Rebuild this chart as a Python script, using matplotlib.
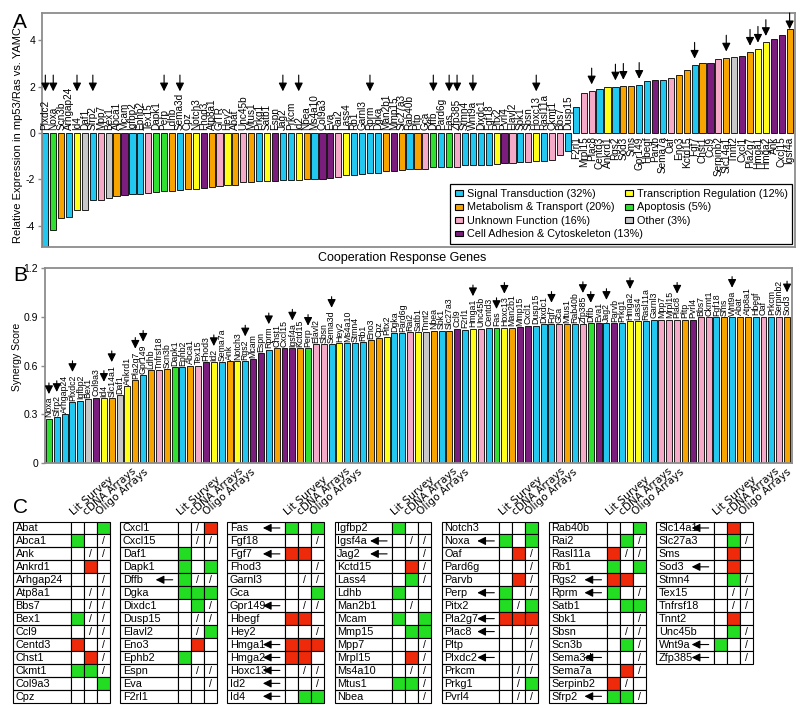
import matplotlib.pyplot as plt
from matplotlib.patches import Rectangle

plt.rcParams['font.family'] = ['Liberation Sans', 'DejaVu Sans']
plt.rcParams['axes.unicode_minus'] = False

# category colours
colors = {'S': '#22c8f0', 'M': '#f7a300', 'U': '#f5aac8', 'C': '#7a1d7c',
          'T': '#ffff1a', 'A': '#30e030', 'O': '#c8c8c8'}
legend_codes = ['S', 'M', 'U', 'C', 'T', 'A', 'O']
legend_labels = ['Signal Transduction (32%)', 'Metabolism & Transport (20%)',
                 'Unknown Function (16%)', 'Cell Adhesion & Cytoskeleton (13%)',
                 'Transcription Regulation (12%)', 'Apoptosis (5%)', 'Other (3%)']

# panel A
genes_a = ['Plxdc2', 'Noxa', 'Scn3b', 'Arhgap24', 'Id4', 'Daf1', 'Sfrp2', 'Mpp7', 'Bex1', 'Abca1',
           'Mcam', 'Igfbp2', 'Ephb2', 'Tex15', 'Dapk1', 'Perp', 'Ldhb', 'Sema3d', 'Cpz', 'Notch3',
           'Fhod3', 'Atp8a1', 'GITR', 'Hey2', 'Abat', 'Unc45b', 'Mtus1', 'Prkg1', 'Satb1', 'Espn',
           'Jag2', 'Prkcm', 'Id2', 'Nbea', 'Ms4a10', 'Col9a3', 'Eva', 'Rai2', 'Lass4', 'Rb1',
           'Garnl3', 'Rprm', 'Dgka', 'Man2b1', 'Mmp15', 'Slc27a3', 'Rab40b', 'Pltp', 'Gca', 'Dffb',
           'Pard6g', 'Fas', 'Zfp385', 'Stmn4', 'Wnt9a', 'Dixdc1', 'Fgf18', 'Pitx2', 'Pvrl4', 'Elavl2',
           'Sbk1', 'Sbsn', 'Hoxc13', 'Rasl11a', 'Ckmt1', 'Bbs7', 'Dusp15', 'F2rl1', 'Mrpl15', 'Plac8',
           'Centd3', 'Ankrd1', 'Rgs2', 'Sod3', 'Sms', 'Gpr149', 'Hbegf', 'Parvb', 'Sema7a', 'Oaf',
           'Eno3', 'Kctd15', 'Fgf7', 'Chst1', 'Ccl9', 'Serpinb2', 'Slc14a1', 'Tnnt2', 'Cxcl1', 'Pla2g7',
           'Hmga1', 'Hmga2', 'Ank', 'Cxcl15', 'Igsf4a']
expr_a = [-4.95, -4.20, -3.67, -3.63, -3.34, -3.34, -2.91, -2.91, -2.81, -2.73,
          -2.69, -2.63, -2.63, -2.60, -2.53, -2.52, -2.52, -2.47, -2.42, -2.40,
          -2.37, -2.32, -2.29, -2.23, -2.23, -2.12, -2.12, -2.09, -2.09, -2.06,
          -2.03, -2.03, -2.03, -2.00, -2.00, -1.97, -1.94, -1.91, -1.83, -1.83,
          -1.77, -1.74, -1.71, -1.65, -1.63, -1.60, -1.57, -1.57, -1.54, -1.48,
          -1.48, -1.45, -1.45, -1.40, -1.40, -1.37, -1.37, -1.34, -1.31, -1.31,
          -1.27, -1.25, -1.22, -1.22, -1.17, -0.95, -0.76, 1.12, 1.73, 1.83,
          1.90, 1.97, 2.00, 2.03, 2.03, 2.07, 2.23, 2.30, 2.30, 2.39,
          2.49, 2.72, 2.94, 3.04, 3.04, 3.21, 3.25, 3.28, 3.32, 3.50,
          3.63, 3.92, 4.06, 4.24, 4.49]
cat_a = list('SAMSTOSUOM' 'CSSUAAMSMT' 'CMUTMUMSTC' 'SSTMSCCUTS' 'SSSMCMSMUA'
             'SAUSSSSTCU' 'SUTSUUSSUU' 'STSMMSSCSU' 'MMSMCUMOCM' 'TTCCM')

# panel B
genes_b = ['Noxa', 'Sfrp2', 'Arhgap24', 'Plxdc2', 'Igfbp2', 'Bex1', 'Col9a3', 'Id4', 'Slc14a1', 'Daf1',
           'Ankrd1', 'Pla2g7', 'Gpr149', 'Ldhb', 'Tnfrsf18', 'Scn3b', 'Dapk1', 'Ephb2', 'Abca1', 'Tex15',
           'Fhod3', 'Id2', 'Sema7a', 'Ank', 'Notch3', 'Rgs2', 'Mcam', 'Espn', 'Rprm', 'Chst1',
           'Cxcl15', 'Igsf4a', 'Kctd15', 'Perp', 'Elavl2', 'Sbsn', 'Sema3d', 'Hey2', 'Ms4a10', 'Stmn4',
           'Rb1', 'Eno3', 'Cpz', 'Pitx2', 'Dgka', 'Pard6g', 'Rai2', 'Satb1', 'Tnnt2', 'Nbea',
           'Sbk1', 'Slc27a3', 'Ccl9', 'F2rl1', 'Hmga1', 'Unc45b', 'Centd3', 'Fas', 'Hoxc13', 'Man2b1',
           'Mmp15', 'Cxcl1', 'Dusp15', 'Dixdc1', 'Fgf7', 'Gca', 'Mtus1', 'Rab40b', 'Zfp385', 'Dffb',
           'Eva1', 'Jag2', 'Parvb', 'Prkg1', 'Hmga2', 'Lass4', 'Rasl11a', 'Garnl3', 'Mpp7', 'Mrpl15',
           'Plac8', 'Pltp', 'Pvrl4', 'Bbs7', 'Ckmt1', 'Fgf18', 'Sms', 'Wnt9a', 'Abat', 'Atp8a1',
           'Hbegf', 'Oaf', 'Prkcm', 'Serpinb2', 'Sod3']
score_b = [0.273, 0.283, 0.300, 0.373, 0.384, 0.394, 0.402, 0.400, 0.400, 0.418,
           0.472, 0.510, 0.540, 0.572, 0.572, 0.578, 0.590, 0.590, 0.600, 0.600,
           0.620, 0.620, 0.620, 0.628, 0.628, 0.628, 0.640, 0.677, 0.697, 0.705,
           0.705, 0.705, 0.705, 0.705, 0.730, 0.730, 0.730, 0.736, 0.736, 0.736,
           0.745, 0.757, 0.767, 0.777, 0.800, 0.800, 0.806, 0.806, 0.806, 0.814,
           0.814, 0.814, 0.827, 0.820, 0.827, 0.827, 0.833, 0.833, 0.833, 0.833,
           0.837, 0.845, 0.845, 0.853, 0.853, 0.853, 0.853, 0.853, 0.853, 0.862,
           0.862, 0.862, 0.862, 0.862, 0.872, 0.872, 0.872, 0.882, 0.882, 0.882,
           0.882, 0.882, 0.882, 0.898, 0.898, 0.898, 0.898, 0.898, 0.900, 0.900,
           0.900, 0.900, 0.900, 0.900, 0.900]
cat_b = list('ASSSSOCTMO' 'TMSMUMASMU' 'CTSMTSCCSM' 'CCMAUUSTSS' 'SMMTSSUTOM'
             'SMCSTUSATM' 'CCSSSUMSUA' 'CSCSTTSSUU' 'UMCUUSMSMM' 'SUSUM')

# genes flagged with an arrow in every panel
marked = ['Dffb', 'Fas', 'Fgf7', 'Gpr149', 'Hmga1', 'Hmga2', 'Hoxc13', 'Id2', 'Id4', 'Igsf4a',
          'Jag2', 'Noxa', 'Perp', 'Pla2g7', 'Plac8', 'Plxdc2', 'Rgs2', 'Rprm', 'Sema3d', 'Sfrp2',
          'Slc14a1', 'Sod3', 'Wnt9a', 'Zfp385']

# panel C: g = green, r = red, / = slash, . = empty
call_columns = ['Lit Survey', 'cDNA Arrays', 'Oligo Arrays']
table_genes = ['Abat', 'Abca1', 'Ank', 'Ankrd1', 'Arhgap24', 'Atp8a1', 'Bbs7', 'Bex1', 'Ccl9', 'Centd3',
               'Chst1', 'Ckmt1', 'Col9a3', 'Cpz',
               'Cxcl1', 'Cxcl15', 'Daf1', 'Dapk1', 'Dffb', 'Dgka', 'Dixdc1', 'Dusp15', 'Elavl2', 'Eno3',
               'Ephb2', 'Espn', 'Eva', 'F2rl1',
               'Fas', 'Fgf18', 'Fgf7', 'Fhod3', 'Garnl3', 'Gca', 'Gpr149', 'Hbegf', 'Hey2', 'Hmga1',
               'Hmga2', 'Hoxc13', 'Id2', 'Id4',
               'Igfbp2', 'Igsf4a', 'Jag2', 'Kctd15', 'Lass4', 'Ldhb', 'Man2b1', 'Mcam', 'Mmp15', 'Mpp7',
               'Mrpl15', 'Ms4a10', 'Mtus1', 'Nbea',
               'Notch3', 'Noxa', 'Oaf', 'Pard6g', 'Parvb', 'Perp', 'Pitx2', 'Pla2g7', 'Plac8', 'Pltp',
               'Plxdc2', 'Prkcm', 'Prkg1', 'Pvrl4',
               'Rab40b', 'Rai2', 'Rasl11a', 'Rb1', 'Rgs2', 'Rprm', 'Satb1', 'Sbk1', 'Sbsn', 'Scn3b',
               'Sema3d', 'Sema7a', 'Serpinb2', 'Sfrp2',
               'Slc14a1', 'Slc27a3', 'Sms', 'Sod3', 'Stmn4', 'Tex15', 'Tnfrsf18', 'Tnnt2', 'Unc45b',
               'Wnt9a', 'Zfp385']
table_calls = ['..g', 'g./', './/', '.r.', '../', './/', './/', 'g//', './/', 'r./',
               '.r/', 'gg/', '..g', '...',
               './r', './/', 'g..', 'g.g', 'g//', 'ggg', '.g/', './/', './g', '.r.',
               'g..', './/', '../', '...',
               'g.g', '../', 'rr.', '../', './/', '..g', './/', 'rr.', '../', 'rrr',
               'rr.', './/', '../', '.gg',
               'g..', './/', '../', '.r/', '.g/', 'g..', './.', 'g.g', '.gg', '../',
               '.r/', './/', 'gg/', '../',
               '..g', 'g.g', '.r/', '../', '.r/', 'g./', 'g/g', 'rrr', '../', '../',
               '../', './/', './g', './/',
               '..g', '.g/', 'r//', 'g.g', 'rr.', 'g./', '.gg', '../', './/', '.g/',
               '../', '.r/', 'r/.', 'gg/',
               '.r.', '.g/', '.r.', '.r.', '.g/', './/', './/', '.r.', '.g/', 'g./', '../']

fig = plt.figure(figsize=(8, 7.1), dpi=100)

# pixel-space overlay for panel C and the free text
axc = fig.add_axes([0, 0, 1, 1])
axc.set_xlim(0, 800)
axc.set_ylim(710, 0)
axc.axis('off')

ax_a = fig.add_axes([42 / 800, 1 - 247 / 710, 753 / 800, 234 / 710])
ax_b = fig.add_axes([45 / 800, 1 - 463 / 710, 747 / 800, 195 / 710])

arrow_kw = dict(arrowstyle='-|>,head_length=0.5,head_width=0.25', color='black',
                lw=0.8, shrinkA=0, shrinkB=0, mutation_scale=10)

# ---- A ----
ax_a.bar(range(len(genes_a)), expr_a, width=0.78, color=[colors[c] for c in cat_a],
         edgecolor='black', linewidth=0.6)
ax_a.set_xlim(-0.42, len(genes_a) - 0.32)
ax_a.set_ylim(-4.92, 5.18)
ax_a.set_yticks([-4, -2, 0, 2, 4])
ax_a.set_xticks([])
top_a = ax_a.get_ylim()[1]
for i, (g, v) in enumerate(zip(genes_a, expr_a)):
    if v < 0:
        ax_a.text(i, 0.15, g, rotation=90, ha='center', va='bottom', fontsize=7.2)
    else:
        ax_a.text(i, -0.15, g, rotation=90, ha='center', va='top', fontsize=7.2)
    if g in marked:
        tip = 1.8 if v < 0 else min(v + 0.27, top_a - 0.7)
        ax_a.annotate('', xy=(i, tip), xytext=(i, tip + 0.7), arrowprops=arrow_kw)

handles = [Rectangle((0, 0), 1, 1, facecolor=colors[c], edgecolor='black', linewidth=0.8)
           for c in legend_codes]
leg = ax_a.legend(handles, legend_labels, loc='lower right', ncol=2, fontsize=7.8,
                  fancybox=False, edgecolor='black', framealpha=1, borderaxespad=0.25,
                  handlelength=0.7, handleheight=0.45, handletextpad=0.35,
                  labelspacing=0.32, columnspacing=-1.6, borderpad=0.45)
leg.get_frame().set_linewidth(0.9)

# ---- B ----
ax_b.bar(range(len(genes_b)), score_b, width=0.76, color=[colors[c] for c in cat_b],
         edgecolor='black', linewidth=0.6)
ax_b.set_xlim(-0.5, len(genes_b) - 0.37)
ax_b.set_ylim(0, 1.2)
ax_b.set_yticks([0, 0.3, 0.6, 0.9, 1.2])
ax_b.set_yticklabels(['0', '0.3', '0.6', '0.9', '1.2'])
ax_b.set_xticks([])
for i, (g, v) in enumerate(zip(genes_b, score_b)):
    t = ax_b.text(i, v + 0.008, g, rotation=90, ha='center', va='bottom', fontsize=6.3,
                  family=['Liberation Sans Narrow', 'Liberation Sans', 'DejaVu Sans'])
    if g in marked:
        ax_b.annotate('', xy=(0.5, 1), xycoords=t, xytext=(0, 10), textcoords='offset points',
                      arrowprops=dict(arrow_kw, shrinkB=2))

for ax in (ax_a, ax_b):
    for s in ax.spines.values():
        s.set_color('#8c8c8c')
        s.set_linewidth(1.3)
    ax.tick_params(axis='y', labelsize=7.5, length=3, width=1, color='#8c8c8c', pad=2)

axc.text(13, 28, 'A', fontsize=15)
axc.text(13, 281, 'B', fontsize=15)
axc.text(13, 513, 'C', fontsize=15)
axc.text(18, 135, 'Relative Expression in mp53/Ras vs. YAMC', rotation=90,
         ha='center', va='center', fontsize=8)
axc.text(17, 357, 'Synergy Score', rotation=90, ha='center', va='center', fontsize=7.5)
axc.text(402, 258, 'Cooperation Response Genes', ha='center', va='center', fontsize=9)

# ---- C ----
green, red = '#22dd22', '#ee2a0a'
x_first, pitch = 13.0, 107.2
name_w, cell_w = 57.5, 13.0
row_top, row_h, per_table = 521.5, 12.95, 14
n_tables = (len(table_genes) + per_table - 1) // per_table
for k, (g, calls) in enumerate(zip(table_genes, table_calls)):
    t_idx, r = divmod(k, per_table)
    x0 = x_first + t_idx * pitch
    y0 = row_top + r * row_h
    axc.add_patch(Rectangle((x0, y0), name_w, row_h, fill=False, ec='black', lw=0.8))
    axc.text(x0 + 2.5, y0 + row_h / 2 + 0.5, g, fontsize=7.8, ha='left', va='center')
    for j, code in enumerate(calls):
        cx = x0 + name_w + j * cell_w
        fc = {'g': green, 'r': red}.get(code, 'white')
        axc.add_patch(Rectangle((cx, y0), cell_w, row_h, facecolor=fc, edgecolor='black', lw=0.8))
        if code == '/':
            axc.text(cx + cell_w / 2, y0 + row_h / 2 + 0.5, '/', fontsize=7.5,
                     ha='center', va='center')
    if g in marked:
        yc = y0 + row_h / 2
        axc.annotate('', xy=(x0 + name_w - 22, yc), xytext=(x0 + name_w - 5, yc),
                     arrowprops=arrow_kw)

for t_idx in range(n_tables):
    x0 = x_first + t_idx * pitch
    for j, lab in enumerate(call_columns):
        axc.text(x0 + name_w + j * cell_w + 3, row_top - 6.5, lab, rotation=41,
                 rotation_mode='anchor', ha='left', va='baseline', fontsize=7.6,
                 family=['DejaVu Sans'])

fig.savefig('out.png', dpi=100)
